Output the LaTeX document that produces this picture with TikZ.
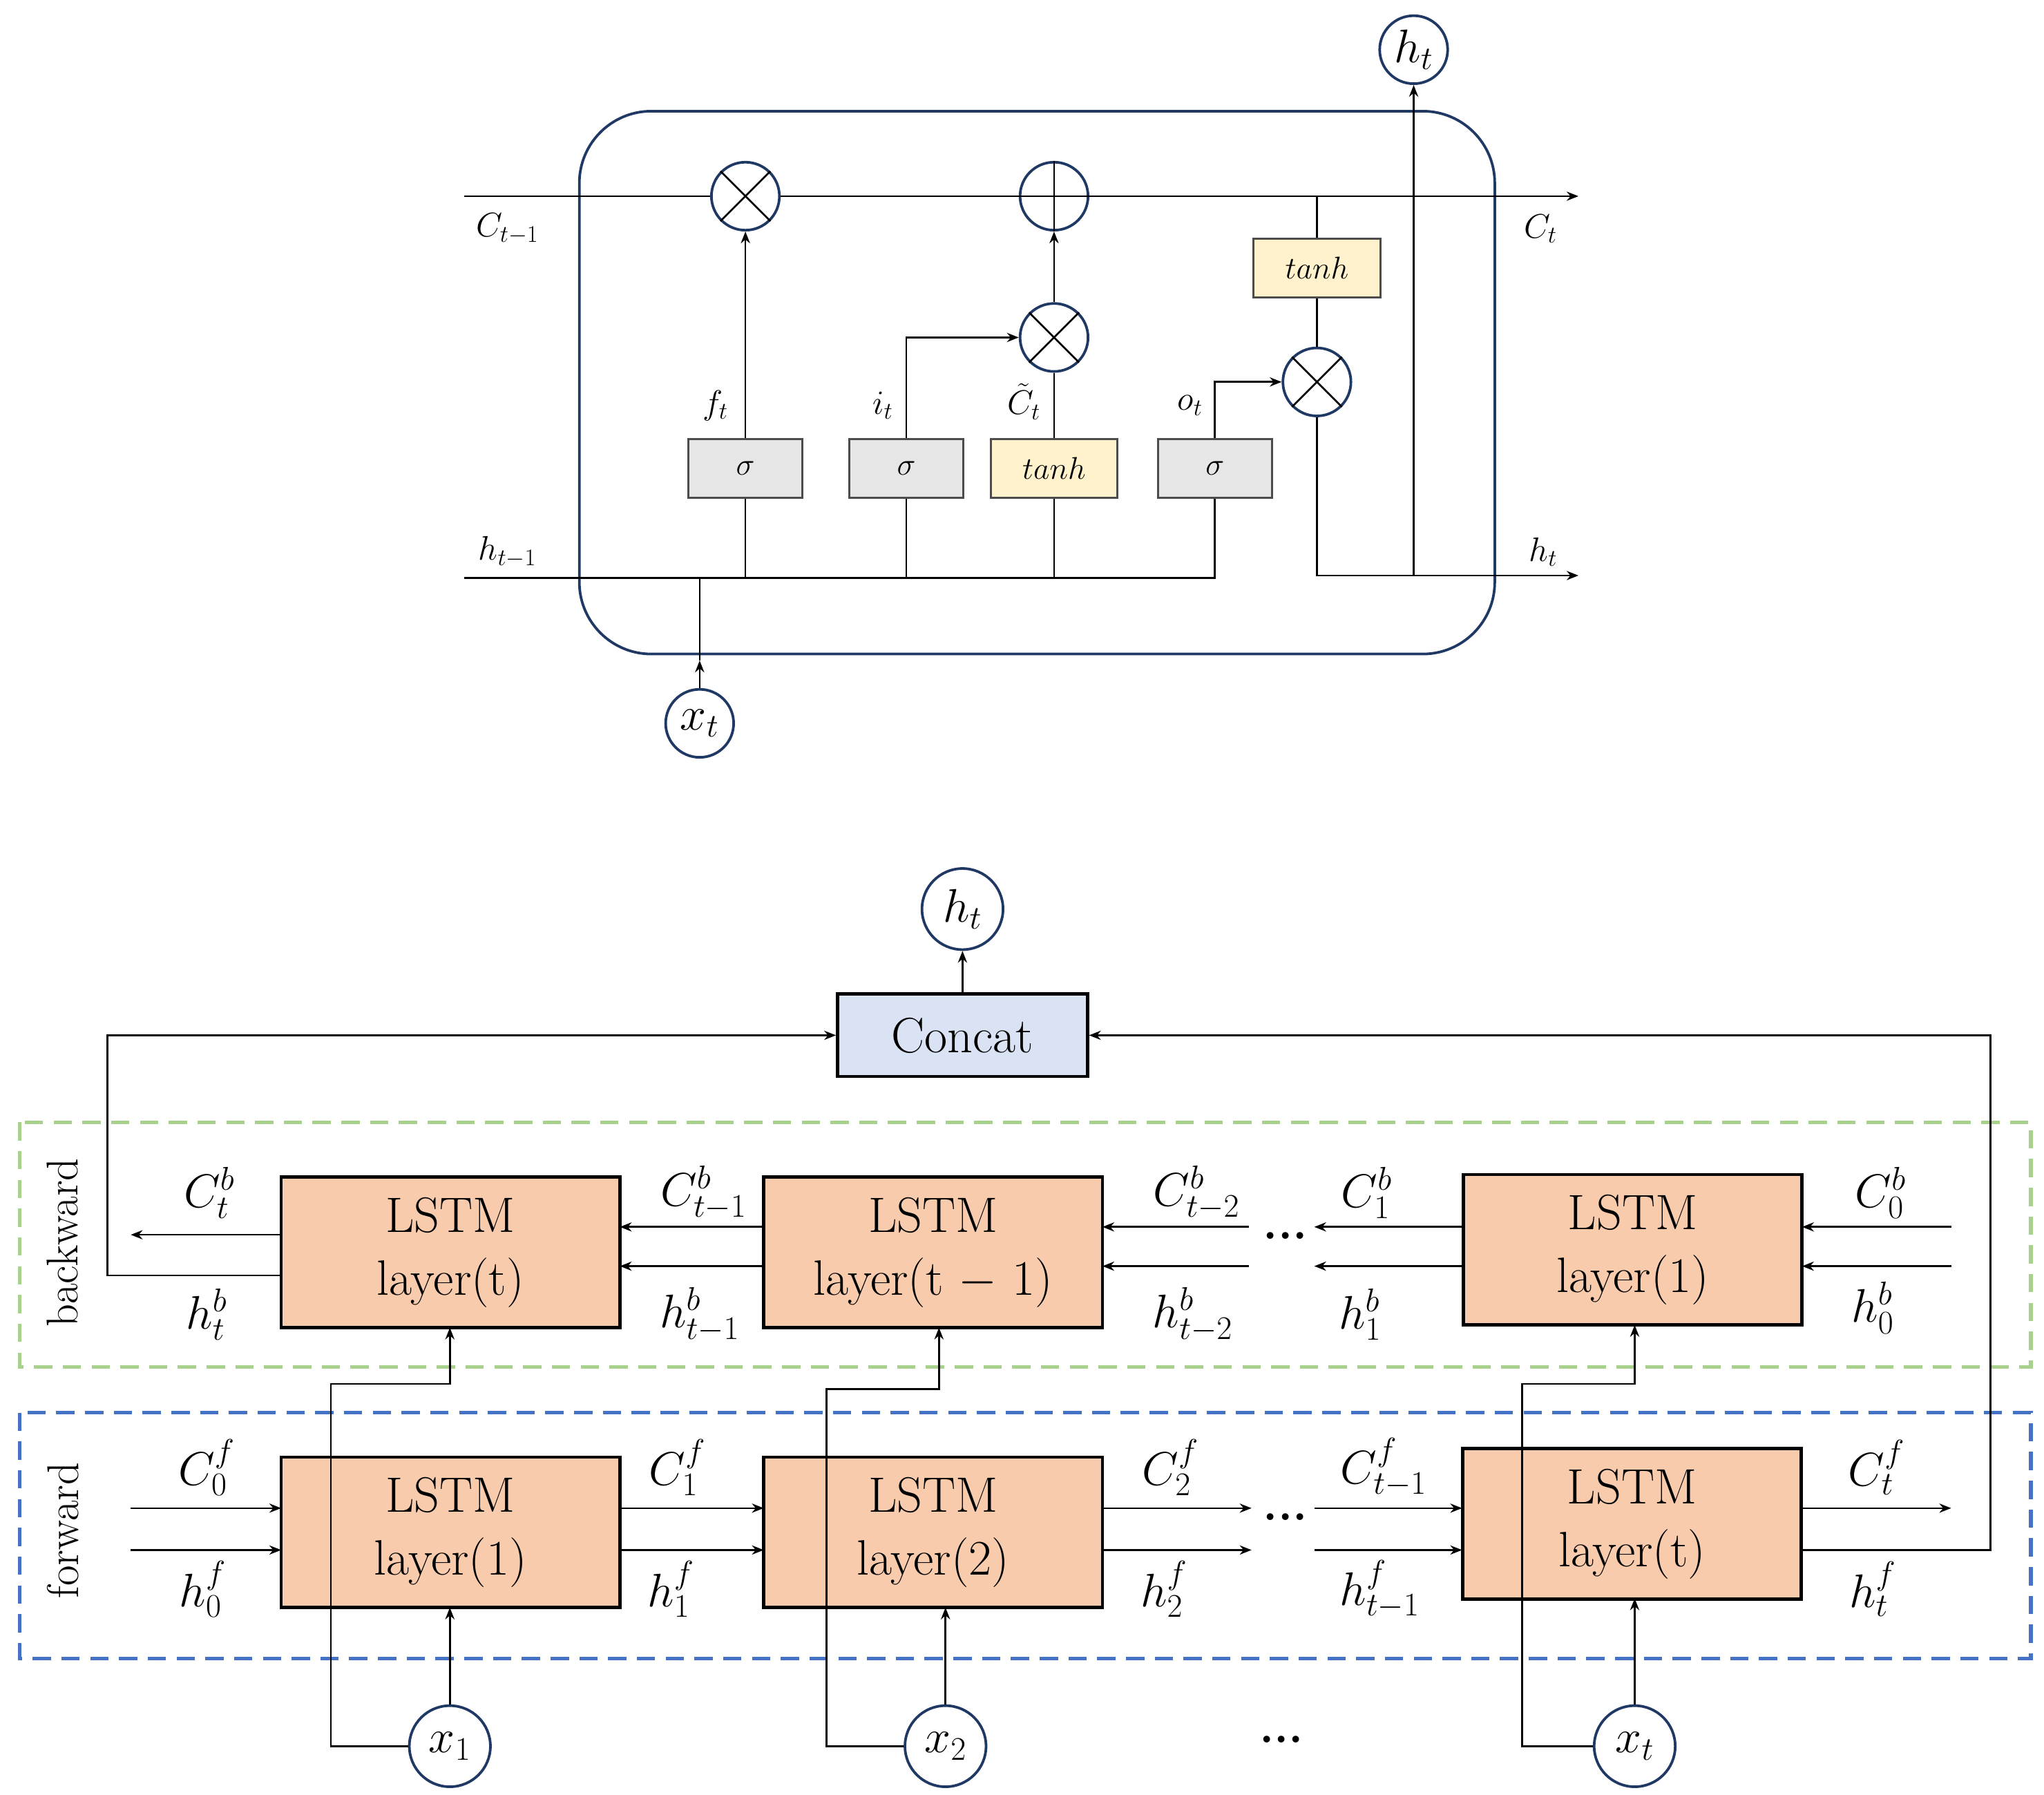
\RequirePackage{fix-cm}
\documentclass[tikz,border=0pt]{standalone}
\usepackage{amsmath}
\usetikzlibrary{arrows.meta}
\definecolor{navy}{HTML}{1F3864}
\definecolor{gbox}{HTML}{E7E6E6}
\definecolor{ybox}{HTML}{FFF2CC}
\definecolor{obox}{HTML}{F8CBAD}
\definecolor{bbox}{HTML}{DAE3F3}
\definecolor{gdash}{HTML}{A9D18E}
\definecolor{bdash}{HTML}{4472C4}
\begin{document}
\begin{tikzpicture}[x=1pt,y=-1pt,
  ln/.style={line width=1.4pt},
  ar/.style={ln,-{Stealth[length=9pt,width=7pt]}},
  op/.style={circle,draw=navy,line width=2pt,minimum size=52pt,inner sep=0pt},
  gb/.style={draw=black!70,line width=1.5pt,fill=gbox,minimum width=87pt,minimum height=45pt,inner sep=0pt,font=\fontsize{24}{28}\selectfont},
  yb/.style={gb,fill=ybox,minimum width=97pt},
  io/.style={circle,draw=navy,line width=2pt,minimum size=62pt,inner sep=0pt,fill=white,font=\fontsize{36}{40}\selectfont},
  lstm/.style={draw=black,line width=2.5pt,fill=obox,minimum width=259pt,minimum height=115pt,align=center,font=\fontsize{38}{48}\selectfont},
  sl/.style={font=\fontsize{26}{30}\selectfont},
  bl/.style={font=\fontsize{36}{40}\selectfont}]
\useasboundingbox (0,0) rectangle (1563,1372);
% ---- top cell
\draw[navy,line width=2pt,rounded corners=55pt] (443,85) rectangle (1143,500);
\node[op] (m1) at (570,150) {};
\draw[ln] (m1.north west)--(m1.south east) (m1.north east)--(m1.south west);
\node[op] (p1) at (806,150) {};
\draw[ln] (p1.north)--(p1.south) (p1.west)--(p1.east);
\node[op] (m2) at (806,258) {};
\draw[ln] (m2.north west)--(m2.south east) (m2.north east)--(m2.south west);
\node[op] (m3) at (1007,292) {};
\draw[ln] (m3.north west)--(m3.south east) (m3.north east)--(m3.south west);
\coordinate (cl) at (355,150); \coordinate (cr) at (1207,150);
\draw[ln] (cl)--(m1.west) (m1.east)--(p1.west);
\draw[ar] (p1.east)--(cr);
\node[gb] (s1) at (570,358) {$\sigma$};
\node[gb] (s2) at (693,358) {$\sigma$};
\node[yb] (t1) at (806,358) {$tanh$};
\node[gb] (s3) at (929,358) {$\sigma$};
\node[yb] (t2) at (1007,205) {$tanh$};
\coordinate (hl) at (355,442); \coordinate (ho) at (929,442);
\draw[ln] (hl)--(ho)--(s3.south);
\draw[ln] (s1.south)--(570,442) (s2.south)--(693,442) (t1.south)--(806,442);
\draw[ar] (s1.north)--(m1.south);
\draw[ar] (s2.north)--(693,258)--(m2.west);
\draw[ln] (t1.north)--(m2.south);
\draw[ar] (m2.north)--(p1.south);
\draw[ar] (s3.north)--(929,292)--(m3.west);
\draw[ln] (1007,150)--(t2.north) (t2.south)--(m3.north);
\coordinate (hr) at (1207,440);
\draw[ar] (m3.south)--(1007,440)--(hr);
\node[io,minimum size=52pt] (ht1) at (1081,38) {$h_t$};
\draw[ar] (1081,440)--(ht1.south);
\node[io,minimum size=52pt] (xt1) at (535,553) {$x_t$};
\draw[ar] (xt1.north)--(535,505);
\draw[ln] (535,505)--(535,442);
\node[sl] at (388,175) {$C_{t-1}$};
\node[sl] at (1178,175) {$C_t$};
\node[sl] at (388,422) {$h_{t-1}$};
\node[sl] at (1180,422) {$h_t$};
\node[sl] at (547,310) {$f_t$};
\node[sl] at (675,310) {$i_t$};
\node[sl] at (783,307) {$\tilde{C}_t$};
\node[sl] at (910,310) {$o_t$};
% ---- bottom
\draw[gdash,line width=3pt,dash pattern=on 14pt off 8pt] (15,858) rectangle (1553,1045);
\draw[bdash,line width=3pt,dash pattern=on 14pt off 8pt] (15,1080) rectangle (1553,1268);
\node[rotate=90,font=\fontsize{34}{38}\selectfont] at (48,950) {backward};
\node[rotate=90,font=\fontsize{34}{38}\selectfont] at (48,1170) {forward};
\node[io] (hb) at (736,695) {$h_t$};
\node[draw=black,line width=2.5pt,fill=bbox,minimum width=191pt,minimum height=63pt,font=\fontsize{38}{44}\selectfont] (cc) at (736,791.5) {Concat};
\draw[ar] (cc.north)--(hb.south);
\node[lstm] (b1) at (344.5,957.5) {LSTM\\layer(t)};
\node[lstm] (b2) at (713.5,957.5) {LSTM\\layer(t $-$ 1)};
\node[lstm] (b3) at (1248.5,955.5) {LSTM\\layer(1)};
\node[lstm] (f1) at (344.5,1171.5) {LSTM\\layer(1)};
\node[lstm] (f2) at (713.5,1171.5) {LSTM\\layer(2)};
\node[lstm] (f3) at (1248,1165) {LSTM\\layer(t)};
% backward arrows
\coordinate (bc0) at (100,944);
\draw[ar] (215,944)--(bc0);
\draw[ln,-{Stealth[length=9pt,width=7pt]}] (215,975)--(82,975)--(82,791.5)--(cc.west);
\draw[ar] (584,938)--(474,938); \draw[ar] (584,968)--(474,968);
\draw[ar] (955,938)--(843,938); \draw[ar] (955,968)--(843,968);
\draw[ar] (1119,938)--(1005,938); \draw[ar] (1119,968)--(1005,968);
\draw[ar] (1492,938)--(1378,938); \draw[ar] (1492,968)--(1378,968);
% forward arrows
\draw[ar] (100,1153)--(215,1153); \draw[ar] (100,1185)--(215,1185);
\draw[ar] (474,1153)--(584,1153); \draw[ar] (474,1185)--(584,1185);
\draw[ar] (843,1153)--(957,1153); \draw[ar] (843,1185)--(957,1185);
\draw[ar] (1005,1153)--(1118,1153); \draw[ar] (1005,1185)--(1118,1185);
\draw[ar] (1378,1153)--(1492,1153);
\draw[ar] (1378,1185)--(1522,1185)--(1522,791.5)--(cc.east);
% labels
\node[bl] at (160,912) {$C_t^b$}; \node[bl] at (158,1005) {$h_t^b$};
\node[bl] at (538,912) {$C_{t-1}^b$}; \node[bl] at (535,1005) {$h_{t-1}^b$};
\node[bl] at (915,912) {$C_{t-2}^b$}; \node[bl] at (912,1005) {$h_{t-2}^b$};
\node[bl] at (1045,912) {$C_1^b$}; \node[bl] at (1040,1005) {$h_1^b$};
\node[bl] at (1438,912) {$C_0^b$}; \node[bl] at (1432,1000) {$h_0^b$};
\node[bl] at (158,1122) {$C_0^f$}; \node[bl] at (155,1215) {$h_0^f$};
\node[bl] at (518,1122) {$C_1^f$}; \node[bl] at (513,1215) {$h_1^f$};
\node[bl] at (895,1122) {$C_2^f$}; \node[bl] at (890,1215) {$h_2^f$};
\node[bl] at (1058,1122) {$C_{t-1}^f$}; \node[bl] at (1055,1215) {$h_{t-1}^f$};
\node[bl] at (1435,1122) {$C_t^f$}; \node[bl] at (1432,1215) {$h_t^f$};
\node[bl] at (983,945) {\textbf{...}};
\node[bl] at (983,1160) {\textbf{...}};
\node[bl] at (980,1330) {\textbf{...}};
% inputs
\node[io] (x1) at (344,1335) {$x_1$};
\node[io] (x2) at (723,1335) {$x_2$};
\node[io] (x3) at (1250,1335) {$x_t$};
\draw[ar] (x1.north)--(344,1229);
\draw[ar] (x2.north)--(723,1229);
\draw[ar] (x3.north)--(1250,1222);
\draw[ar] (x1.west)--(253,1335)--(253,1058)--(344,1058)--(344,1015);
\draw[ar] (x2.west)--(632,1335)--(632,1062)--(718,1062)--(718,1015);
\draw[ar] (x3.west)--(1164,1335)--(1164,1058)--(1250,1058)--(1250,1013);
\end{tikzpicture}
\end{document}
